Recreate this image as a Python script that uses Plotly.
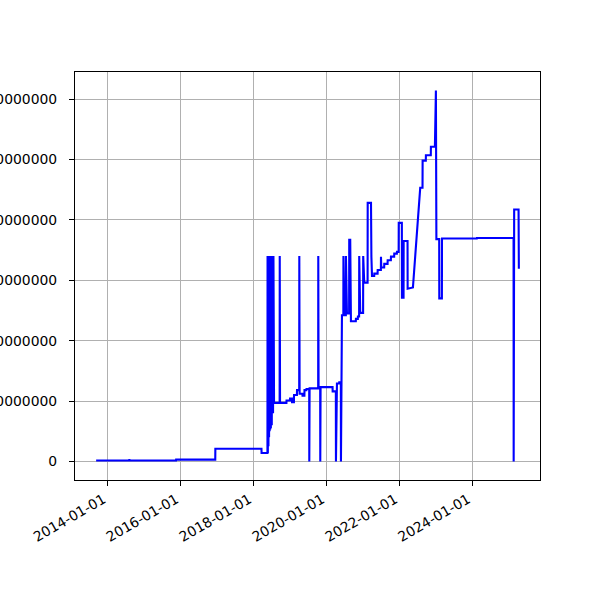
import pandas as pd
import plotly.graph_objects as go

dates = [
    "2013-09-10", "2014-08-08", "2014-08-09", "2014-08-10", "2014-08-11",
    "2015-11-19", "2015-11-20", "2016-12-16", "2016-12-17",
    "2018-03-24", "2018-03-25", "2018-05-23",
    "2018-05-24", "2018-05-27", "2018-05-30", "2018-06-02", "2018-06-05", "2018-06-08",
    "2018-06-11", "2018-06-14", "2018-06-17", "2018-06-20", "2018-06-23", "2018-06-26",
    "2018-06-30", "2018-07-05", "2018-07-12", "2018-07-18", "2018-07-22", "2018-07-28",
    "2018-09-22", "2018-09-23", "2018-09-26",
    "2018-11-29", "2018-11-30", "2019-01-03", "2019-01-04", "2019-01-23", "2019-01-24",
    "2019-02-12", "2019-02-13", "2019-03-14", "2019-03-15",
    "2019-04-06", "2019-04-07", "2019-04-10",
    "2019-05-08", "2019-05-09", "2019-05-28", "2019-05-29", "2019-06-17", "2019-06-18",
    "2019-07-15", "2019-07-16", "2019-07-19",
    "2019-10-13", "2019-10-14", "2019-10-17", "2019-11-02", "2019-11-03", "2019-11-06",
    "2020-03-05", "2020-03-06", "2020-04-07", "2020-04-08", "2020-04-18",
    "2020-05-10", "2020-05-11", "2020-05-27", "2020-05-28", "2020-06-07",
    "2020-06-21", "2020-06-22", "2020-06-30", "2020-07-16", "2020-07-17", "2020-07-27",
    "2020-08-18", "2020-08-19", "2020-08-29", "2020-09-05",
    "2020-10-24", "2020-10-25", "2020-11-13", "2020-11-14",
    "2020-11-26", "2020-11-27", "2020-12-07",
    "2021-01-05", "2021-01-06", "2021-01-16",
    "2021-02-19", "2021-02-20", "2021-03-25", "2021-03-29", "2021-04-04",
    "2021-04-26", "2021-04-27", "2021-05-30", "2021-05-31",
    "2021-07-02", "2021-07-03", "2021-07-06",
    "2021-08-04", "2021-08-05", "2021-09-07", "2021-09-08", "2021-10-10", "2021-10-11",
    "2021-11-12", "2021-11-13", "2021-12-09", "2021-12-10", "2021-12-27", "2021-12-28",
    "2022-01-28", "2022-01-29", "2022-02-14", "2022-02-15", "2022-03-26", "2022-03-27",
    "2022-05-19", "2022-07-31", "2022-08-23", "2022-08-24", "2022-09-25", "2022-09-26",
    "2022-11-14", "2022-11-15", "2022-12-25", "2023-01-04", "2023-01-09",
    "2023-02-06", "2023-02-07", "2023-03-05", "2023-03-06",
    "2024-02-18", "2024-02-19", "2025-02-20", "2025-02-21", "2025-02-26",
    "2025-04-11", "2025-04-14",
]

values = [
    150000, 150000, 400000, 0, 150000,
    150000, 300000, 300000, 2100000,
    2100000, 1400000, 1400000,
    34000000, 1400000, 34000000, 2500000, 34000000, 4000000,
    34000000, 5000000, 34000000, 5300000, 34000000, 5500000,
    34000000, 6000000, 34000000, 8000000, 34000000, 9700000,
    9700000, 34000000, 9700000,
    9700000, 10100000, 10100000, 10400000, 10400000, 9800000,
    9800000, 11000000, 11000000, 11800000,
    11800000, 34000000, 11200000,
    11200000, 10900000, 10900000, 11800000, 11800000, 12000000,
    12000000, 0, 12100000,
    12100000, 34000000, 12200000, 12200000, 0, 12300000,
    12300000, 11600000, 11600000, 0, 12900000,
    12900000, 13100000, 13100000, 0, 24200000,
    24200000, 34000000, 24200000, 24200000, 34000000, 24500000,
    24500000, 36700000, 36700000, 23200000,
    23200000, 23600000, 23600000, 24000000,
    24000000, 34000000, 24600000,
    24600000, 34000000, 29600000,
    29600000, 42800000, 42800000, 33900000, 30700000,
    30700000, 31100000, 31100000, 31700000,
    31700000, 33900000, 32100000,
    32100000, 32700000, 32700000, 33300000, 33300000, 33900000,
    33900000, 34400000, 34400000, 34700000, 34700000, 39500000,
    39500000, 27100000, 27100000, 36500000, 36500000, 28600000,
    28800000, 45300000, 45300000, 49800000, 49800000, 50700000,
    50700000, 52100000, 52100000, 61400000, 36800000,
    36800000, 27000000, 27000000, 36900000,
    36900000, 37000000, 37000000, 0, 41700000,
    41700000, 31900000,
]

y_ticks = [0, 10000000, 20000000, 30000000, 40000000, 50000000, 60000000]

xd = pd.to_datetime(dates)
xmin, xmax = xd.min(), xd.max()
xpad = (xmax - xmin) * 0.05
ymin, ymax = min(values), max(values)
ypad = (ymax - ymin) * 0.05

fig = go.Figure(
    go.Scatter(
        x=xd, y=values, mode="lines",
        line=dict(color="#0000ff", width=2.1, simplify=False),
        hoverinfo="skip",
    )
)

font = dict(family="DejaVu Sans", size=13.9, color="black")

fig.update_layout(
    width=600, height=600,
    margin=dict(l=75, r=60, t=72, b=120, autoexpand=False),
    plot_bgcolor="white", paper_bgcolor="white",
    showlegend=False,
    font=font,
)

fig.update_xaxes(
    type="date",
    range=[xmin - xpad, xmax + xpad],
    tick0="2014-01-01", dtick="M24", tickformat="%Y-%m-%d",
    tickangle=-30, ticklabelshift=-4,
    ticks="outside", ticklen=5, tickwidth=1.1, tickcolor="black",
    showgrid=True, gridcolor="#b0b0b0", gridwidth=1.1,
    showline=True, linecolor="black", linewidth=1.1, mirror=True,
    zeroline=False, automargin=False, tickfont=font,
)

fig.update_yaxes(
    range=[ymin - ypad, ymax + ypad],
    tickmode="array", tickvals=y_ticks,
    ticktext=[str(v) for v in y_ticks],
    ticklabelstandoff=9,
    ticks="outside", ticklen=5, tickwidth=1.1, tickcolor="black",
    showgrid=True, gridcolor="#b0b0b0", gridwidth=1.1,
    showline=True, linecolor="black", linewidth=1.1, mirror=True,
    zeroline=False, automargin=False, tickfont=font,
)

fig.write_html(
    "out.html",
    config={"displayModeBar": False},
    post_script="document.body.style.margin='0';",
)
